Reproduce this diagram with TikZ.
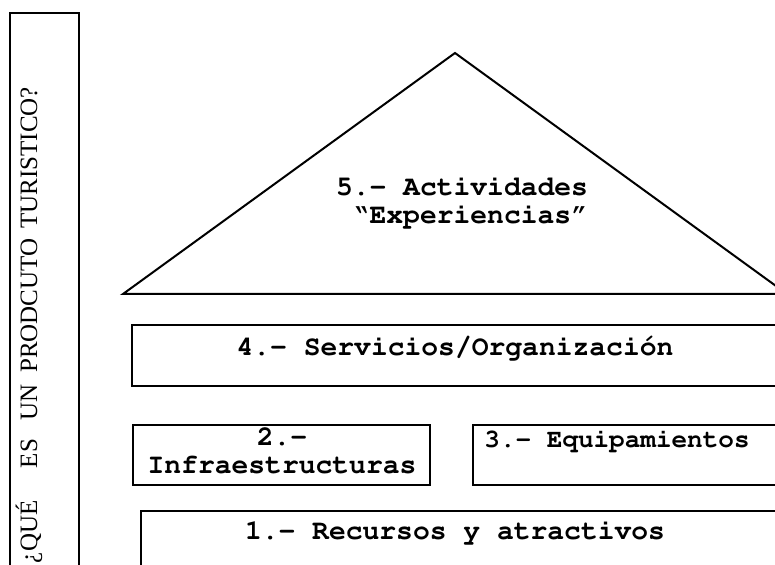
\documentclass[tikz,border=0pt]{standalone}
\usepackage[T1]{fontenc}
\usepackage{fontspec}
\newfontfamily\titulofont{Liberation Serif}
\newcommand\cajafont{\fontencoding{T1}\fontfamily{pcr}\fontseries{b}\selectfont}
\usetikzlibrary{positioning}

\begin{document}
\begin{tikzpicture}[x=0.5pt,y=-0.5pt,
  caja/.style={draw,line width=1pt,anchor=north west,inner sep=0pt,outer sep=0pt},
  texto/.style={font=\cajafont\fontsize{14}{14}\selectfont,align=center,inner sep=0pt}]
\useasboundingbox (0,0) rectangle (775,565);
\node[caja,minimum width=34.5pt,minimum height=290pt] (marco) at (10,13) {};
\node[rotate=90,inner sep=0pt,font=\titulofont\fontsize{12.5}{12.5}\selectfont] (pregunta) at (29,325)
  {¿QUÉ\hspace{1.3em}ES\hspace{0.75em}UN\hspace{0.45em}PRODCUTO\hspace{0.4em}TURISTICO?};
\coordinate (cima) at (455,53);
\coordinate (izq) at (123,294);
\coordinate (der) at (787,294);
\draw[line width=1pt] (izq) -- (cima) -- (der) -- cycle;
\node[texto] (actividades) at (462,202) {5.- Actividades\\\ ``Experiencias''};
\node[caja,minimum width=334pt,minimum height=30.5pt] (servicios) at (132,325) {};
\node[texto,anchor=base] (servicios texto) at (455,356) {4.- Servicios/Organización};
\node[caja,minimum width=148.5pt,minimum height=30pt] (infra) at (133,425) {};
\node[texto] (infra texto) at (282,451) {2.-\\ Infraestructuras};
\node[caja,minimum width=163.5pt,minimum height=30pt] (equipos) at (473,425) {};
\node[texto,anchor=base,font=\cajafont\fontsize{13}{13}\selectfont] (equipos texto) at (617,448) {3.- Equipamientos};
\node[caja,minimum width=329.5pt,minimum height=34.5pt] (recursos) at (141,511) {};
\node[texto,anchor=base] (recursos texto) at (455,539) {1.- Recursos y atractivos};
\end{tikzpicture}
\end{document}
